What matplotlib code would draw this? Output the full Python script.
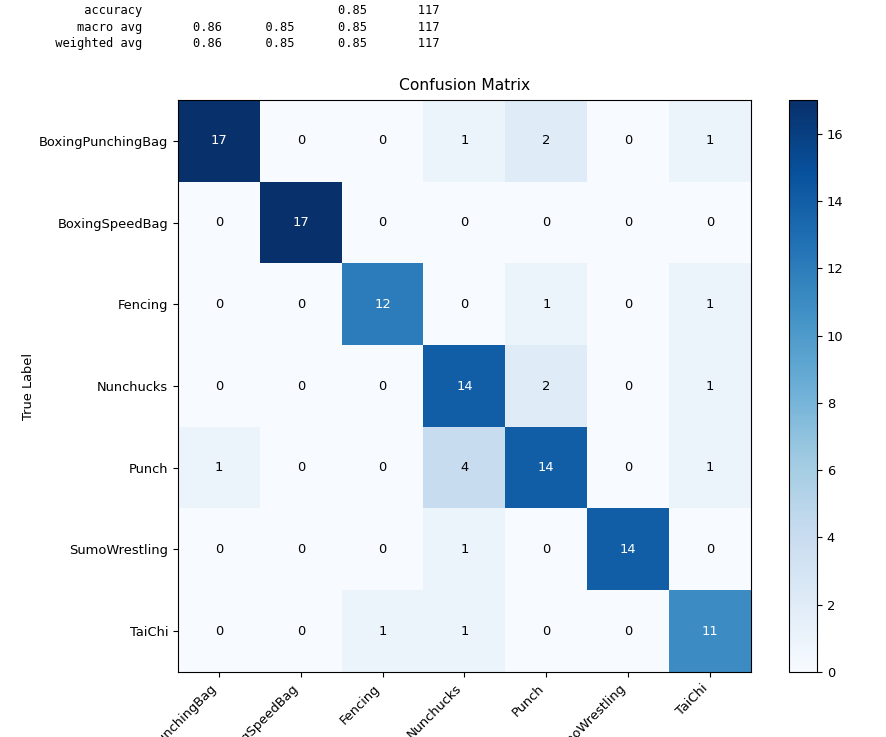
"""Confusion matrix with the tail of a classification report above it."""

import matplotlib

matplotlib.use("Agg")
import matplotlib.pyplot as plt
import numpy as np


CLASS_NAMES = [
    "BoxingPunchingBag",
    "BoxingSpeedBag",
    "Fencing",
    "Nunchucks",
    "Punch",
    "SumoWrestling",
    "TaiChi",
]

CONFUSION = [
    [17, 0, 0, 1, 2, 0, 1],
    [0, 17, 0, 0, 0, 0, 0],
    [0, 0, 12, 0, 1, 0, 1],
    [0, 0, 0, 14, 2, 0, 1],
    [1, 0, 0, 4, 14, 0, 1],
    [0, 0, 0, 1, 0, 14, 0],
    [0, 0, 1, 1, 0, 0, 11],
]

ACCURACY = 0.85
SUPPORT = 117
AVG_NAMES = ["macro avg", "weighted avg"]
AVG_PRECISION = [0.86, 0.86]
AVG_RECALL = [0.85, 0.85]
AVG_F1 = [0.85, 0.85]


def report_lines() -> list[str]:
    """Format the bottom rows the way sklearn's classification_report does."""
    width = max(len(name) for name in CLASS_NAMES)
    blank = f" {'':>9}"
    lines = [
        f"{'accuracy':>{width}s} " + blank * 2
        + f" {ACCURACY:>9.2f}" + f" {SUPPORT:>9}"
    ]
    for name, p, r, f in zip(AVG_NAMES, AVG_PRECISION, AVG_RECALL, AVG_F1):
        lines.append(
            f"{name:>{width}s} "
            + f" {p:>9.2f}"
            + f" {r:>9.2f}"
            + f" {f:>9.2f}"
            + f" {SUPPORT:>9}"
        )
    return lines


def main() -> None:
    matrix = np.array(CONFUSION)
    figure = plt.figure(figsize=(8.87, 7.37), dpi=100)

    for index, line in enumerate(report_lines()):
        figure.text(
            19 / 887,
            1 - (10.5 + index * 16.6) / 737,
            line,
            family="DejaVu Sans Mono",
            fontsize=8.68,
            va="center",
            ha="left",
            color="black",
        )

    axis = figure.add_axes([178 / 887, 65 / 737, 573 / 887, 572 / 737])
    image = axis.imshow(
        matrix, interpolation="nearest", cmap="Blues", vmin=0, vmax=matrix.max(),
        aspect="auto",
    )
    axis.set_title("Confusion Matrix", fontsize=11.2, pad=7.5)

    ticks = np.arange(len(CLASS_NAMES))
    axis.set_xticks(ticks)
    axis.set_xticklabels(CLASS_NAMES, rotation=45, ha="right", fontsize=9.35)
    axis.set_yticks(ticks)
    axis.set_yticklabels(CLASS_NAMES, fontsize=9.35)
    axis.set_ylabel("True Label", fontsize=9.35)
    axis.yaxis.set_label_coords((35 - 178) / 573, 0.5)
    axis.set_xlabel("Predicted Label", fontsize=9.35)

    threshold = matrix.max() / 2.0
    for row in range(matrix.shape[0]):
        for col in range(matrix.shape[1]):
            axis.text(
                col,
                row,
                str(matrix[row, col]),
                ha="center",
                va="center",
                color="white" if matrix[row, col] > threshold else "black",
                fontsize=9.35,
            )

    colorbar_axis = figure.add_axes([789 / 887, 65 / 737, 28 / 887, 572 / 737])
    colorbar = figure.colorbar(image, cax=colorbar_axis)
    colorbar.set_ticks(range(0, 17, 2))
    colorbar.ax.tick_params(labelsize=9.35)

    figure.savefig("out.png", dpi=100)
    plt.close(figure)


if __name__ == "__main__":
    main()
